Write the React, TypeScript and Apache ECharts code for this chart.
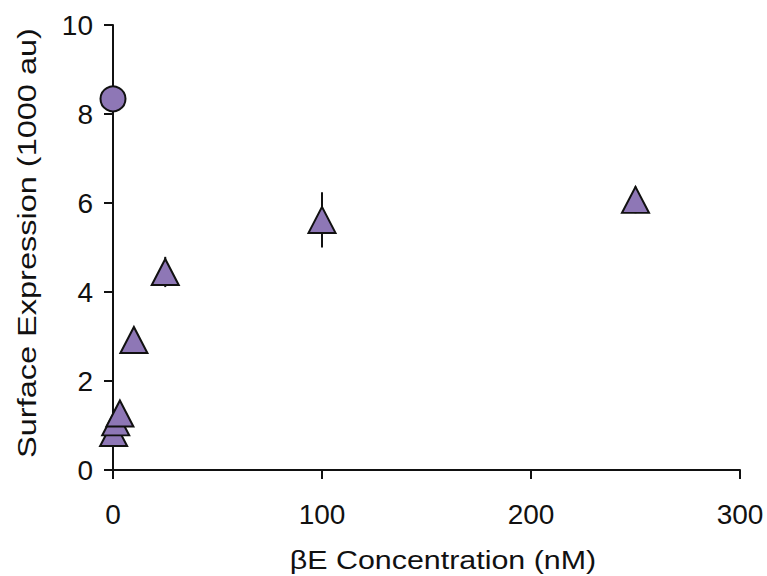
import React, { useEffect, useRef } from "react";
import * as echarts from "echarts";

const xTicks = [0, 100, 200, 300];
const yTicks = [0, 2, 4, 6, 8, 10];
const xTitle = "βE Concentration (nM)";
const yTitle = "Surface Expression (1000 au)";

const circleX = [0];
const circleY = [8.34];

const triX = [0.3, 1.3, 3.3, 10, 25, 100, 250];
const triY = [0.83, 1.07, 1.27, 2.92, 4.45, 5.62, 6.07];
const triErr = [0.1, 0.1, 0.1, 0.15, 0.34, 0.62, 0.3];

const FILL = "#8E77B6";

export default function App() {
  const ref = useRef<HTMLDivElement>(null);
  useEffect(() => {
    if (!ref.current) return;
    const chart = echarts.init(ref.current, null, { renderer: "svg" });
    const font = "Liberation Sans, Arial, Helvetica, sans-serif";
    const errData = triX.map((x, i) => [x, triY[i] - triErr[i], triY[i] + triErr[i]]);
    chart.setOption({
      animation: false,
      backgroundColor: "#ffffff",
      grid: { left: 113, right: 27, top: 25, bottom: 106 },
      graphic: [
        {
          type: "text",
          x: 443,
          y: 560,
          scaleX: 1.17,
          style: {
            text: xTitle,
            fill: "#111",
            font: `26px ${font}`,
            align: "center",
            verticalAlign: "middle",
          },
        },
        {
          type: "text",
          x: 27,
          y: 243,
          rotation: Math.PI / 2,
          scaleX: 1.25,
          style: {
            text: yTitle,
            fill: "#111",
            font: `26px ${font}`,
            align: "center",
            verticalAlign: "middle",
          },
        },
      ],
      xAxis: {
        type: "value",
        min: xTicks[0],
        max: xTicks[xTicks.length - 1],
        interval: 100,
        axisLine: { show: true, onZero: false, lineStyle: { color: "#111", width: 2 } },
        axisTick: { show: true, inside: false, length: 9, lineStyle: { color: "#111", width: 2 } },
        axisLabel: { color: "#111", fontSize: 28, fontFamily: font, margin: 30 },
        splitLine: { show: false },
      },
      yAxis: {
        type: "value",
        min: yTicks[0],
        max: yTicks[yTicks.length - 1],
        interval: 2,
        axisLine: { show: true, onZero: false, lineStyle: { color: "#111", width: 2 } },
        axisTick: { show: true, inside: false, length: 9, lineStyle: { color: "#111", width: 2 } },
        axisLabel: { color: "#111", fontSize: 28, fontFamily: font, margin: 20 },
        splitLine: { show: false },
      },
      series: [
        {
          type: "custom",
          z: 1,
          data: errData,
          renderItem: (params: any, api: any) => {
            const x = api.value(0);
            const lo = api.coord([x, api.value(1)]);
            const hi = api.coord([x, api.value(2)]);
            return {
              type: "line",
              shape: { x1: lo[0], y1: lo[1], x2: hi[0], y2: hi[1] },
              style: { stroke: "#111", lineWidth: 2 },
            };
          },
        },
        {
          type: "scatter",
          z: 3,
          symbol: "triangle",
          symbolSize: [27, 26],
          itemStyle: { color: FILL, borderColor: "#111", borderWidth: 2, opacity: 1 },
          data: triX.map((x, i) => [x, triY[i]]),
        },
        {
          type: "scatter",
          z: 3,
          symbol: "circle",
          symbolSize: 25,
          itemStyle: { color: FILL, borderColor: "#111", borderWidth: 2, opacity: 1 },
          data: circleX.map((x, i) => [x, circleY[i]]),
        },
      ],
    });
    return () => chart.dispose();
  }, []);
  return <div ref={ref} style={{ width: 767, height: 576, position: "absolute", left: 0, top: 0 }} />;
}
